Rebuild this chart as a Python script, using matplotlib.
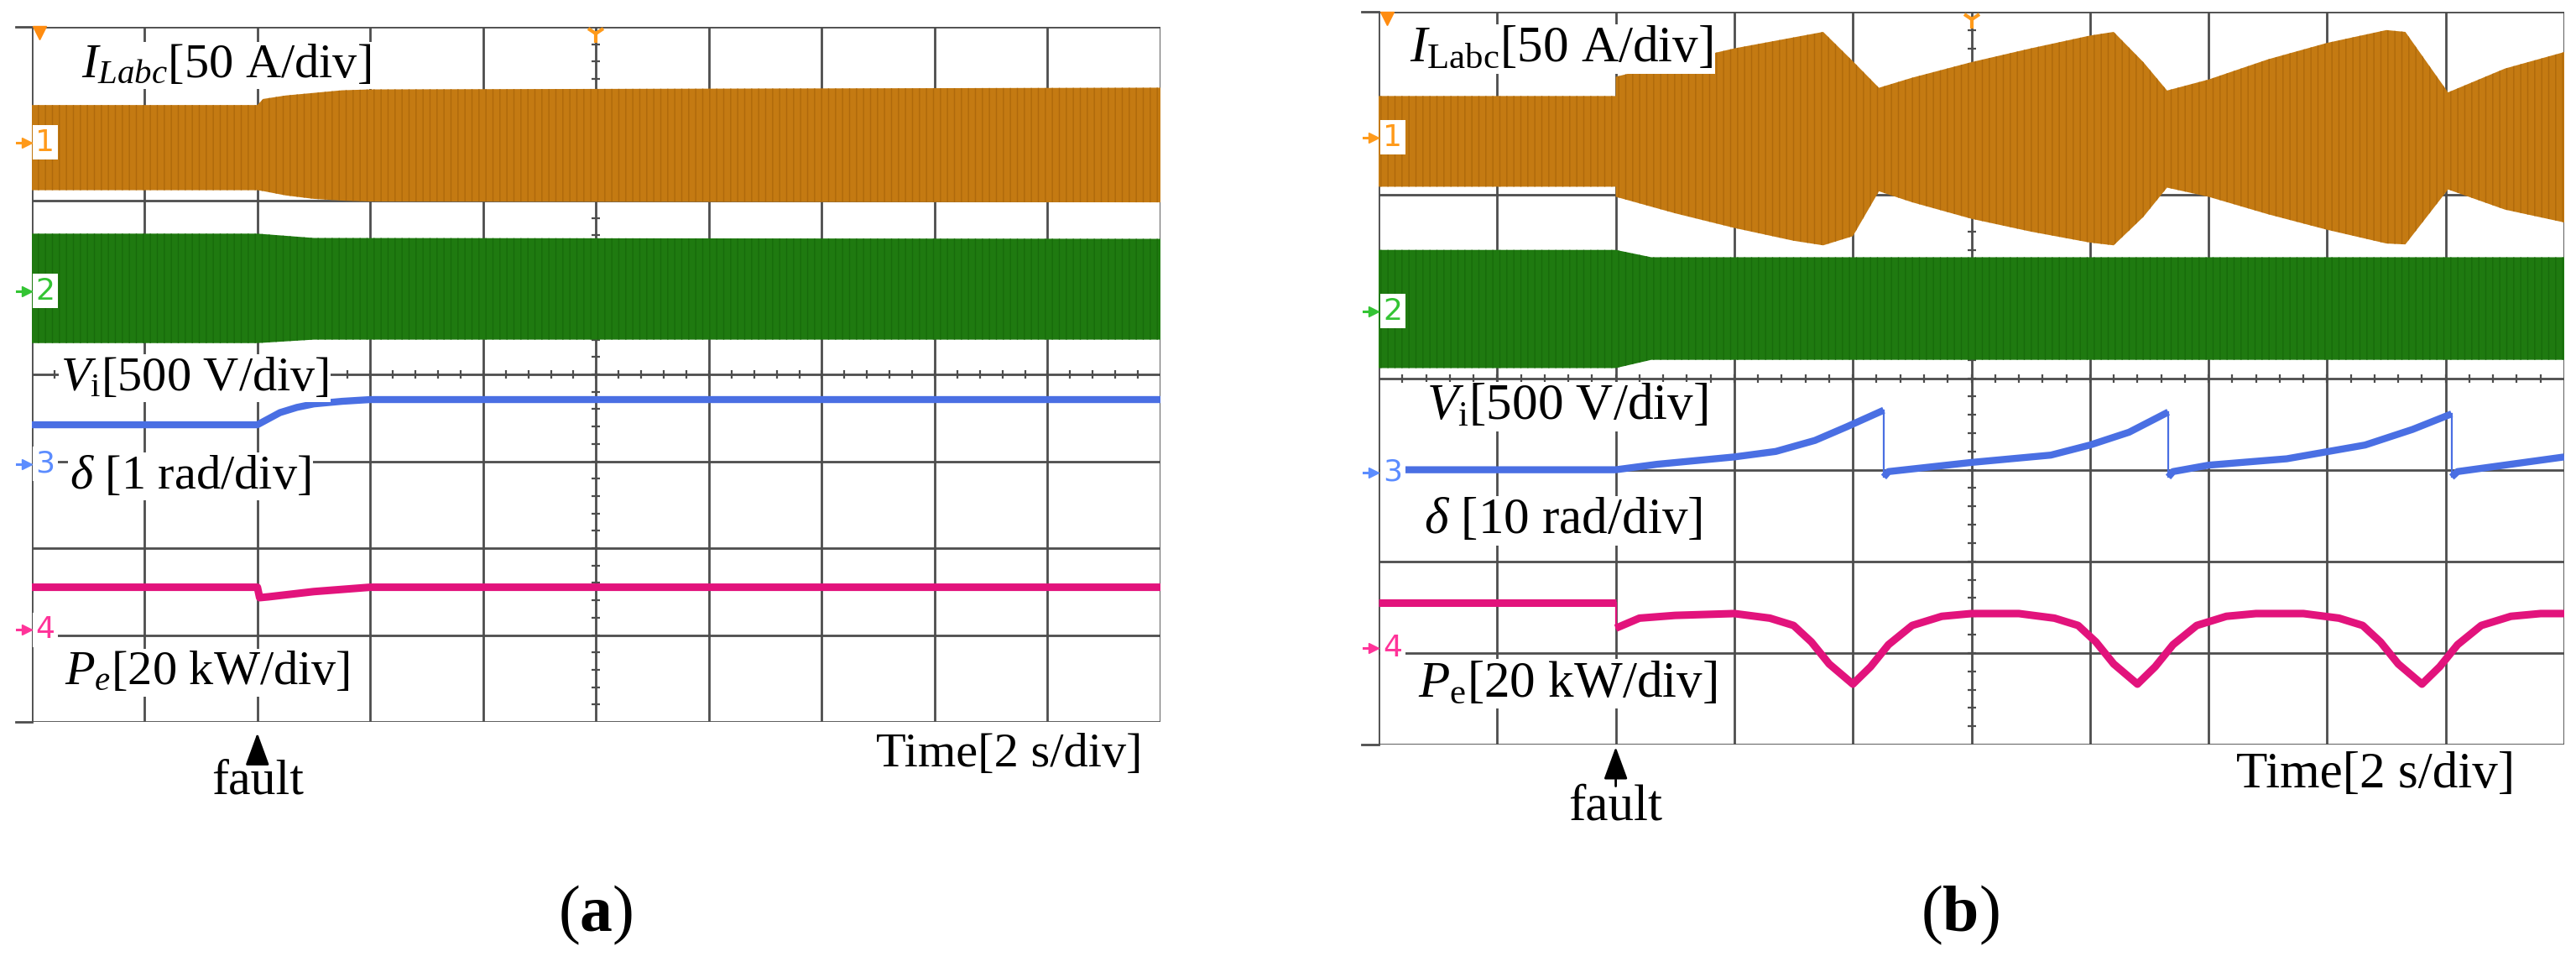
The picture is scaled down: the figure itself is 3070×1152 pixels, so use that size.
import numpy as np
import matplotlib
matplotlib.use('Agg')
from matplotlib import pyplot as plt

plt.rcParams['font.family'] = 'Liberation Serif'
plt.rcParams['mathtext.fontset'] = 'custom'
plt.rcParams['mathtext.rm'] = 'Liberation Serif'
plt.rcParams['mathtext.it'] = 'Liberation Serif:italic'
plt.rcParams['mathtext.bf'] = 'Liberation Serif:bold'
plt.rcParams['hatch.linewidth'] = 1.0

# all values are in scope divisions (x: 0..10, y: 0..8 from the bottom)

# --- (a) ---
a_ilabc_x = [0, 2.0, 2.05, 2.25, 2.5, 2.75, 3.0, 10]
a_ilabc_top = [7.10, 7.10, 7.17, 7.21, 7.24, 7.27, 7.28, 7.30]
a_ilabc_bot = [6.12, 6.12, 6.11, 6.06, 6.02, 6.00, 5.99, 5.98]

a_vi_x = [0, 2.0, 2.5, 10]
a_vi_top = [5.62, 5.62, 5.57, 5.56]
a_vi_bot = [4.36, 4.36, 4.40, 4.40]

a_delta_x = [0, 2.0, 2.1, 2.2, 2.35, 2.5, 2.75, 3.0, 10]
a_delta_y = [3.42, 3.42, 3.49, 3.56, 3.62, 3.66, 3.69, 3.71, 3.71]

a_pe_x = [0, 2.0, 2.02, 2.1, 2.3, 2.5, 2.8, 3.0, 10]
a_pe_y = [1.55, 1.55, 1.43, 1.44, 1.47, 1.50, 1.53, 1.55, 1.55]

# --- (b) ---
b_ilabc_x = [0, 2.0, 2.0, 2.5, 3.0, 3.5, 3.75, 4.0, 4.22, 4.5, 5.0, 5.5, 6.0, 6.2,
             6.45, 6.65, 7.0, 7.5, 8.0, 8.5, 8.66, 9.02, 9.5, 10]
b_ilabc_top = [7.08, 7.08, 7.29, 7.45, 7.60, 7.72, 7.78, 7.46, 7.17, 7.28, 7.45, 7.60, 7.74, 7.78,
               7.45, 7.14, 7.26, 7.48, 7.66, 7.80, 7.78, 7.12, 7.38, 7.56]
b_ilabc_bot = [6.09, 6.09, 5.98, 5.80, 5.64, 5.50, 5.45, 5.55, 6.04, 5.92, 5.74, 5.60, 5.48, 5.45,
               5.76, 6.08, 5.98, 5.79, 5.62, 5.47, 5.46, 6.06, 5.84, 5.70]

b_vi_x = [0, 2.0, 2.3, 10]
b_vi_top = [5.40, 5.40, 5.32, 5.32]
b_vi_bot = [4.11, 4.11, 4.20, 4.20]

b_delta_x = [0.2, 2.0, 2.35, 3.0, 3.35, 3.68, 3.95, 4.26, 4.26, 4.30, 5.0, 5.67, 6.0, 6.33,
             6.66, 6.66, 6.70, 7.0, 7.66, 8.32, 8.72, 9.05, 9.05, 9.10, 10]
b_delta_y = [3.00, 3.00, 3.06, 3.14, 3.20, 3.32, 3.47, 3.65, 2.92, 2.98, 3.08, 3.16, 3.27, 3.41,
             3.63, 2.92, 2.98, 3.05, 3.12, 3.27, 3.44, 3.61, 2.92, 2.98, 3.14]

b_pe_x = [0, 2.0, 2.0, 2.2, 2.5, 3.0,
          3.3, 3.5, 3.65, 3.8, 4.0, 4.15, 4.3, 4.5, 4.75, 5.0, 5.4,
          5.7, 5.9, 6.05, 6.2, 6.4, 6.55, 6.7, 6.9, 7.15, 7.4, 7.8,
          8.1, 8.3, 8.45, 8.6, 8.8, 8.95, 9.1, 9.3, 9.55, 9.8, 10]
b_pe_y = [1.55, 1.55, 1.27, 1.38, 1.41, 1.43,
          1.38, 1.30, 1.12, 0.88, 0.66, 0.85, 1.09, 1.30, 1.40, 1.43, 1.43,
          1.38, 1.30, 1.12, 0.88, 0.66, 0.85, 1.09, 1.30, 1.40, 1.43, 1.43,
          1.38, 1.30, 1.12, 0.88, 0.66, 0.85, 1.09, 1.30, 1.40, 1.43, 1.43]

# text labels: (text, x, baseline y)
a_labels = [(r'$I_{Labc}$[50 A/div]', 0.44, 7.42),
            (r'$V_{\mathrm{i}}$[500 V/div]', 0.255, 3.82),
            (r'$\delta$ [1 rad/div]', 0.34, 2.69),
            (r'$P_e$[20 kW/div]', 0.29, 0.43)]
b_labels = [(r'$I_{\mathrm{Labc}}$[50 A/div]', 0.265, 7.46),
            (r'$V_{\mathrm{i}}$[500 V/div]', 0.40, 3.55),
            (r'$\delta$ [10 rad/div]', 0.38, 2.31),
            (r'$P_{\mathrm{e}}$[20 kW/div]', 0.33, 0.53)]

channels = ['1', '2', '3', '4']
a_channel_y = [6.67, 4.96, 2.97, 1.06]
b_channel_y = [6.63, 4.73, 2.97, 1.05]

ORANGE = '#C47A12'
ORANGE_DARK = '#AF690C'
GREEN = '#1F7A10'
GREEN_DARK = '#186B0B'
BLUE = '#4A6FE3'
PINK = '#E2137C'
GRID = '#4d4d4d'
MARK_COLORS = ['#FF9A1A', '#33C433', '#5B8CFF', '#FF3399']


def draw_band(ax, x, top, bot, color, stripe):
    ax.fill_between(x, bot, top, facecolor=color, edgecolor=stripe, hatch='||',
                    linewidth=0, zorder=2)


def draw_trace(ax, x, y, color, lw):
    # thick trace, thin line where the signal jumps (same x twice)
    x = np.asarray(x)
    y = np.asarray(y)
    jumps = np.where(np.diff(x) == 0)[0]
    start = 0
    for j in jumps:
        ax.plot(x[start:j + 1], y[start:j + 1], color=color, lw=lw, zorder=3,
                solid_capstyle='butt')
        ax.plot(x[j:j + 2], y[j:j + 2], color=color, lw=1.6, zorder=3)
        start = j + 1
    ax.plot(x[start:], y[start:], color=color, lw=lw, zorder=3, solid_capstyle='butt')


def draw_screen(ax):
    ax.set_xlim(0, 10)
    ax.set_ylim(0, 8)
    ax.axis('off')
    ax.vlines(np.arange(11), 0, 8, color=GRID, lw=2.0, zorder=1)
    ax.hlines(np.arange(9), 0, 10, color=GRID, lw=2.0, zorder=1)
    # frame lines of the scope stick out a bit to the left
    ax.plot([-0.14, 0], [0, 0], color=GRID, lw=2.0, clip_on=False)
    ax.plot([-0.14, 0], [8, 8], color=GRID, lw=2.0, clip_on=False)
    # minor ticks on the centre lines
    minor = np.arange(0.2, 10, 0.2)
    ax.plot(minor, np.full(len(minor), 4.0), ls='none', marker='|', ms=7, mew=1.6,
            color=GRID, zorder=1)
    minor_y = np.arange(0.2, 8, 0.2)
    ax.plot(np.full(len(minor_y), 5.0), minor_y, ls='none', marker='_', ms=7, mew=1.6,
            color=GRID, zorder=1)
    # trigger markers
    ax.plot(0.07, 7.93, marker='v', ms=11, color='#FF8C10', zorder=6, clip_on=False)
    ax.plot(5, 7.92, marker='1', ms=16, mew=3, color='#FF9A1A', zorder=6, clip_on=False)


def draw_channels(ax, ys):
    for name, y, c in zip(channels, ys, MARK_COLORS):
        ax.plot([-0.13, -0.05], [y, y], color=c, lw=2.2, clip_on=False, zorder=6)
        ax.plot(-0.045, y, marker='>', ms=9, color=c, clip_on=False, zorder=6)
        ax.text(0.12, y, name, color=c, fontsize=26, family='DejaVu Sans',
                ha='center', va='center', zorder=7,
                bbox=dict(facecolor='white', edgecolor='none', pad=2.5))


def draw_labels(ax, labels, size):
    for txt, x, y in labels:
        ax.text(x, y, txt, fontsize=size, ha='left', va='baseline', zorder=5,
                bbox=dict(facecolor='white', edgecolor='none', pad=1.5))


def draw_fault(ax, tip, stem_end, text_y, size):
    ax.annotate('', xy=(2, tip), xytext=(2, stem_end), annotation_clip=False,
                arrowprops=dict(arrowstyle='-|>,head_length=0.6,head_width=0.22',
                                color='black', lw=2, mutation_scale=40))
    ax.text(2, text_y, 'fault', fontsize=size, ha='center', va='baseline')


fig = plt.figure(figsize=(30.70, 11.52), dpi=100)

ax_a = fig.add_axes([37.7 / 3070, 1 - 860 / 1152, (1383 - 37.7) / 3070, (860 - 32) / 1152])
draw_screen(ax_a)
draw_band(ax_a, a_ilabc_x, a_ilabc_top, a_ilabc_bot, ORANGE, ORANGE_DARK)
draw_band(ax_a, a_vi_x, a_vi_top, a_vi_bot, GREEN, GREEN_DARK)
draw_trace(ax_a, a_delta_x, a_delta_y, BLUE, 6)
draw_trace(ax_a, a_pe_x, a_pe_y, PINK, 6.5)
draw_labels(ax_a, a_labels, 42)
draw_channels(ax_a, a_channel_y)
ax_a.text(9.84, -0.51, 'Time[2 s/div]', fontsize=42, ha='right', va='baseline')
draw_fault(ax_a, -0.1, -0.5, -0.83, 43)

ax_b = fig.add_axes([1643 / 3070, 1 - 887 / 1152, (3056 - 1643) / 3070, (887 - 14) / 1152])
draw_screen(ax_b)
draw_band(ax_b, b_ilabc_x, b_ilabc_top, b_ilabc_bot, ORANGE, ORANGE_DARK)
draw_band(ax_b, b_vi_x, b_vi_top, b_vi_bot, GREEN, GREEN_DARK)
draw_trace(ax_b, b_delta_x, b_delta_y, BLUE, 6)
draw_trace(ax_b, b_pe_x, b_pe_y, PINK, 6.5)
draw_labels(ax_b, b_labels, 44)
draw_channels(ax_b, b_channel_y)
ax_b.text(9.58, -0.47, 'Time[2 s/div]', fontsize=44, ha='right', va='baseline')
draw_fault(ax_b, 0.0, -0.48, -0.82, 44)

fig.text(0.231, 0.037, r'($\mathbf{a}$)', fontsize=56, ha='center', va='baseline')
fig.text(0.761, 0.037, r'($\mathbf{b}$)', fontsize=56, ha='center', va='baseline')

fig.savefig('out.png', dpi=100)
